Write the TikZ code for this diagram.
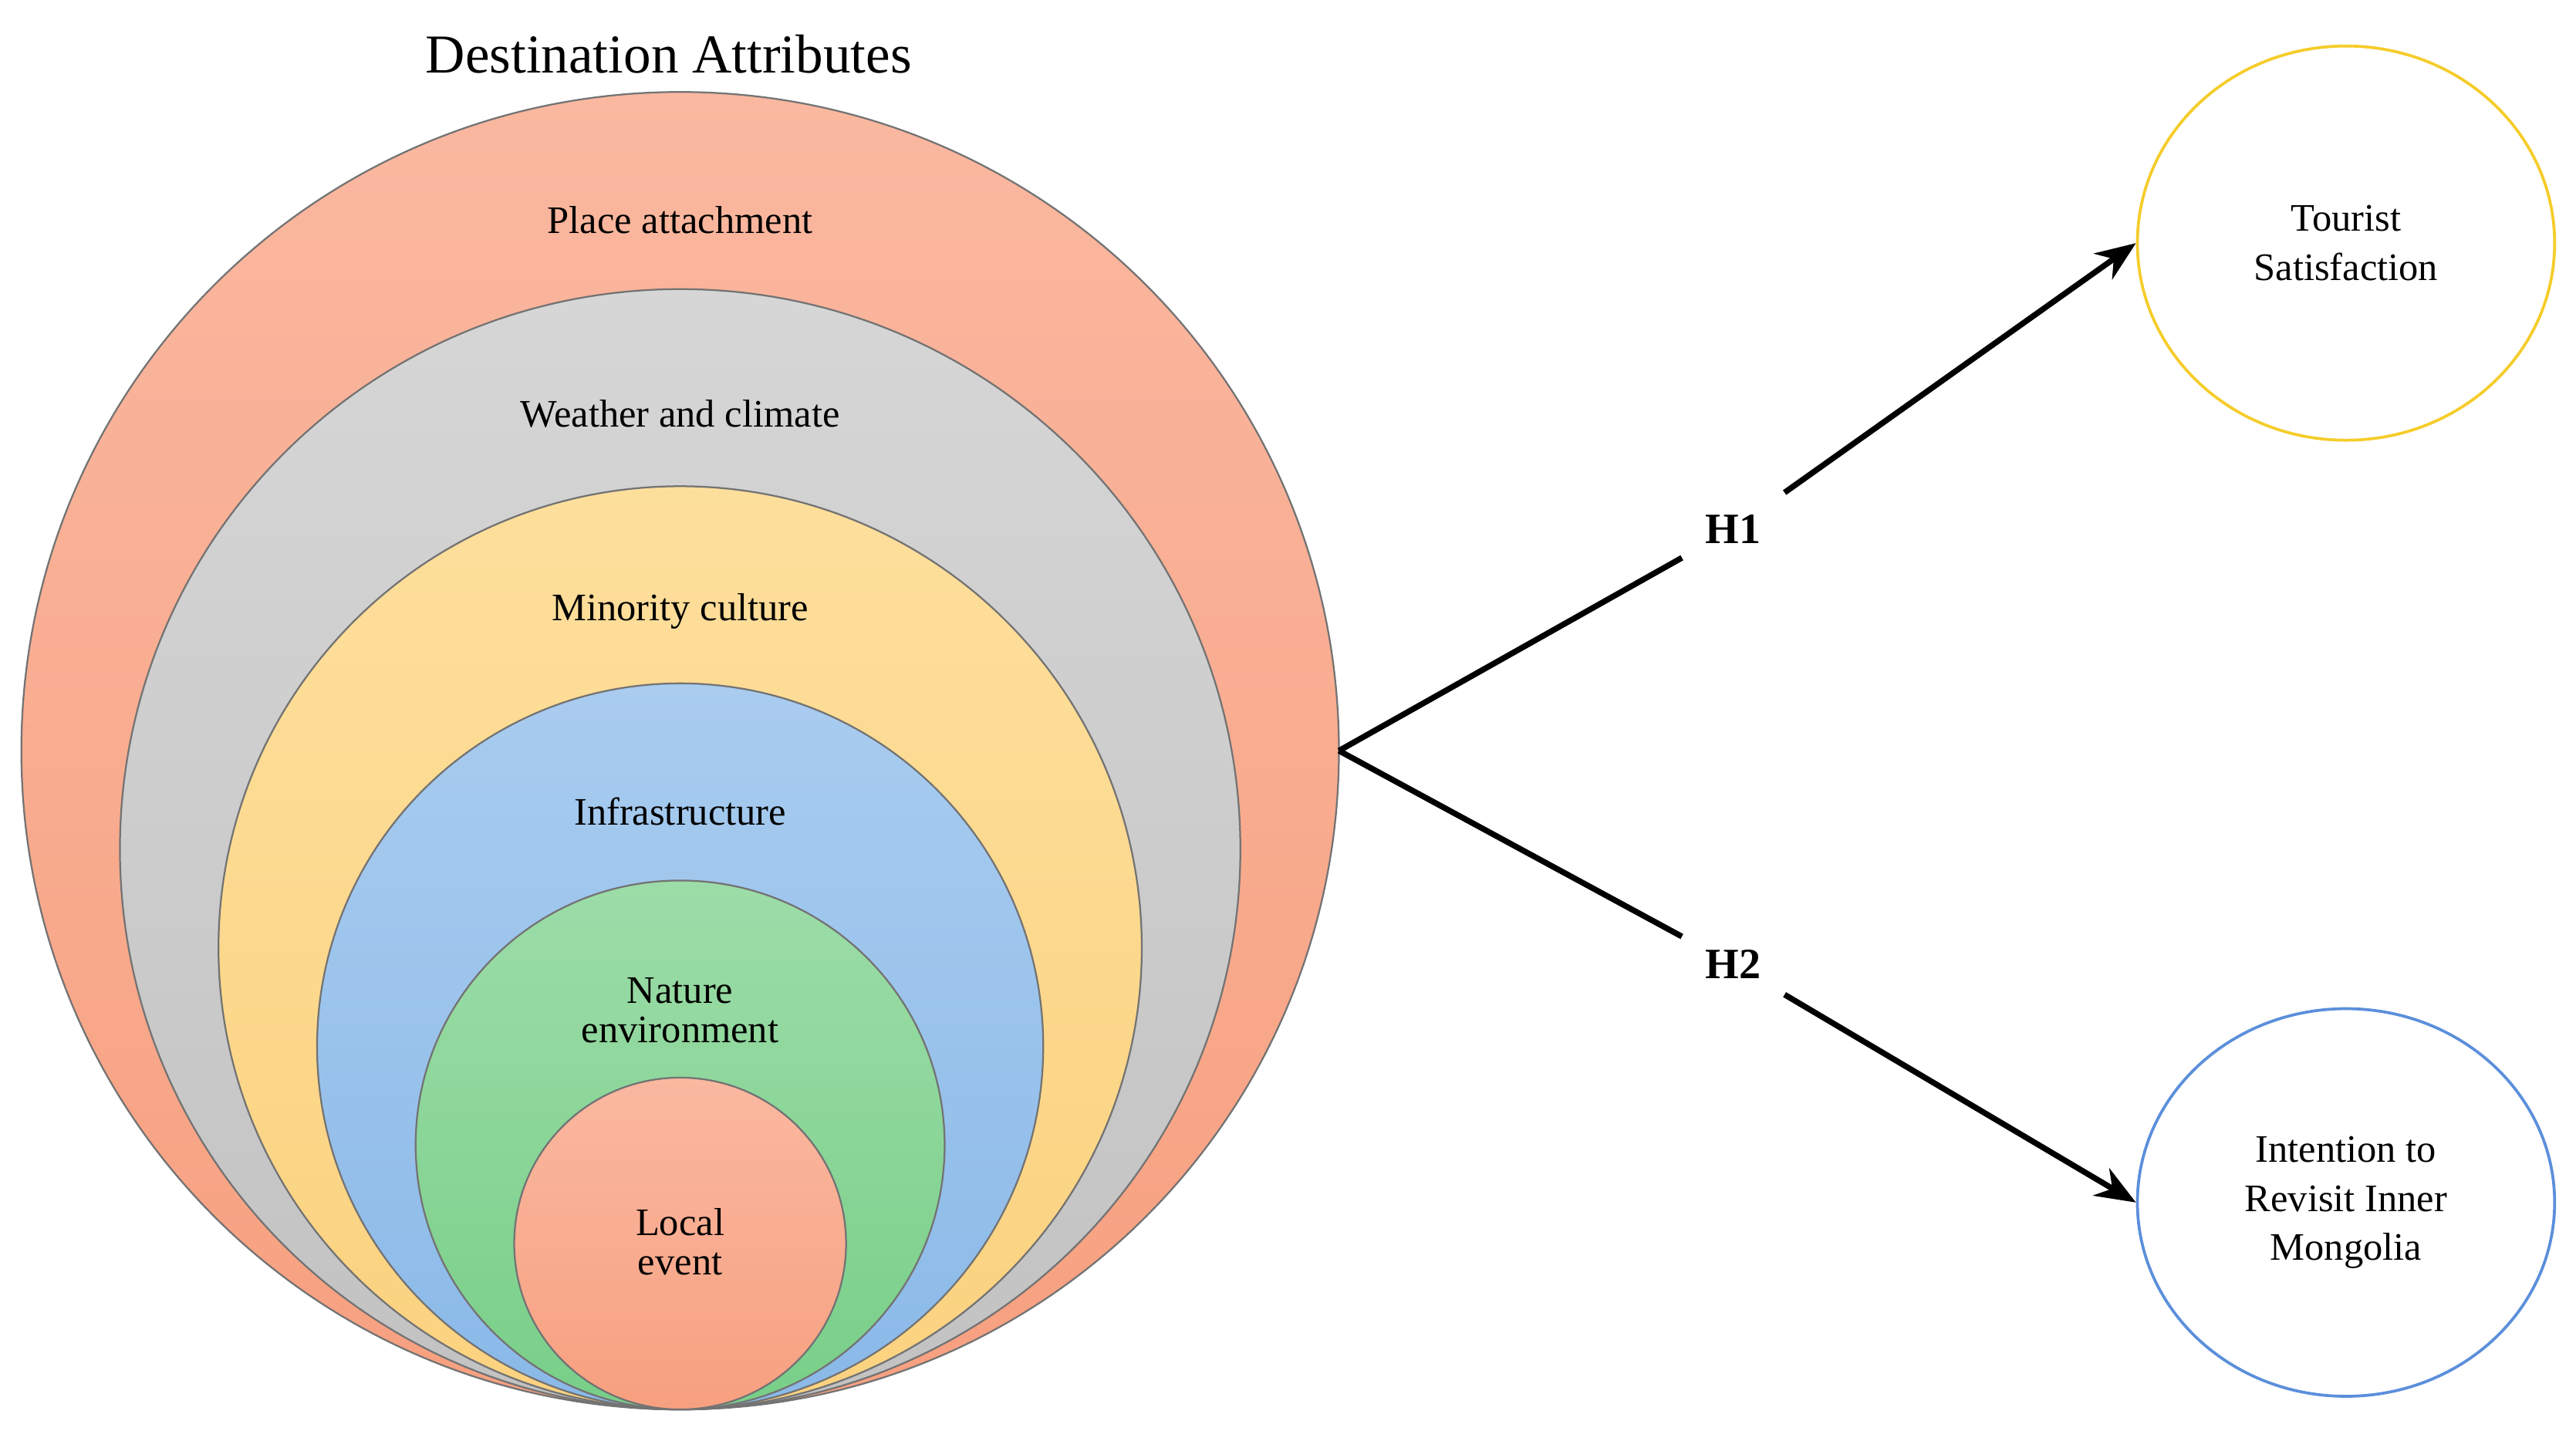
\documentclass[tikz,border=0pt]{standalone}
\usepackage{fontspec}
\setmainfont{Liberation Serif}
\usetikzlibrary{shapes.geometric,arrows.meta}
\definecolor{salmonT}{HTML}{FAB8A0}
\definecolor{salmonB}{HTML}{F7A080}
\definecolor{grayT}{HTML}{D6D6D6}
\definecolor{grayB}{HTML}{C2C2C2}
\definecolor{yelT}{HTML}{FDDF9C}
\definecolor{yelB}{HTML}{FBD27F}
\definecolor{bluT}{HTML}{A9CCEF}
\definecolor{bluB}{HTML}{8AB9E8}
\definecolor{grnT}{HTML}{9CDCA8}
\definecolor{grnB}{HTML}{78CF88}
\definecolor{satline}{HTML}{F5CC2A}
\definecolor{revline}{HTML}{5B8FDB}
\tikzset{
  ring/.style={draw=black!55, line width=0.6pt},
  lbl/.style={font=\fontsize{13.5}{13.8}\selectfont, align=center},
  hyp/.style={font=\fontsize{15}{16}\selectfont\bfseries, inner sep=8pt},
  target/.style={ellipse, draw, line width=1pt, minimum width=5.08cm, minimum height=4.8cm, align=center, font=\fontsize{13.5}{17}\selectfont},
  link/.style={line width=2pt, -{Stealth[length=14pt,width=11pt]}}
}
\begin{document}
\begin{tikzpicture}[x=0.02cm, y=-0.02cm]
    \useasboundingbox (0,0) rectangle (1568,871);
    % Nested circles
    \shade[ring, top color=salmonT, bottom color=salmonB] (414,457) circle (401);
    \shade[ring, top color=grayT, bottom color=grayB] (414,517) circle (341);
    \shade[ring, top color=yelT, bottom color=yelB] (414,577) circle (281);
    \shade[ring, top color=bluT, bottom color=bluB] (414,637) circle (221);
    \shade[ring, top color=grnT, bottom color=grnB] (414,697) circle (161);
    \shade[ring, top color=salmonT, bottom color=salmonB] (414,757) circle (101);
    
    % Circle labels
    \node[font=\fontsize{19}{20}\selectfont] (title) at (407,33) {Destination Attributes};
    \node[lbl] (place) at (414,134) {Place attachment};
    \node[lbl] (weather) at (414,252) {Weather and climate};
    \node[lbl] (minority) at (414,372) {Minority culture};
    \node[lbl] (infra) at (414,494) {Infrastructure};
    \node[lbl] (nature) at (414,615) {Nature\\environment};
    \node[lbl] (event) at (414,756) {Local\\event};
    
    % Outcomes
    \coordinate (src) at (815,457);
    \node[target, draw=satline] (sat) at (1428,148) {Tourist\\Satisfaction};
    \node[target, draw=revline, minimum height=4.72cm] (rev) at (1428,732) {Intention to\\Revisit Inner\\Mongolia};
    
    % Hypotheses
    \node[hyp] (h1) at (1055,322) {H1};
    \node[hyp] (h2) at (1055,587) {H2};
    \draw[line width=2pt] (src) -- (h1);
    \draw[link] (h1) -- (sat.west);
    \draw[line width=2pt] (src) -- (h2);
    \draw[link] (h2) -- (rev.west);
\end{tikzpicture}
\end{document}
